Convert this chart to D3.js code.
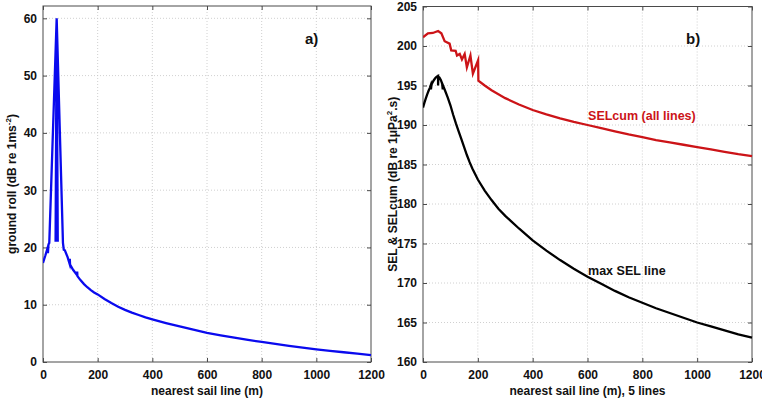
<!DOCTYPE html>
<html><head><meta charset="utf-8">
<script src="https://cdn.jsdelivr.net/npm/d3@7"></script>
<style>
body{margin:0;background:#fff;}
svg{display:block;font-family:"Liberation Sans",Arial,sans-serif;}
</style></head>
<body><svg id="c" width="762" height="400"></svg>
<script>
// ---------- data ----------
const xTicks = [0,200,400,600,800,1000,1200];
const groundTicks = [0,10,20,30,40,50,60];
const selTicks = [160,165,170,175,180,185,190,195,200,205];

const groundX = [0,8,16,18,20,23,50,46,50,54,50,73,76,80,90,97,98,99,110,124,125,126,137,150,162,175,187,200,225,250,275,300,325,350,375,400,450,500,550,600,650,700,750,800,850,900,950,1000,1050,1100,1150,1200];
const groundY = [17.3,18.5,19.8,19.0,20.5,20.8,60,21,60,21,60,20.8,19.6,19.5,18.3,17.2,18.0,17.0,16.1,15.2,15.8,15.0,14.3,13.6,13.05,12.55,12.15,11.8,11.0,10.3,9.65,9.1,8.62,8.2,7.8,7.45,6.8,6.2,5.65,5.1,4.65,4.25,3.85,3.5,3.15,2.8,2.5,2.2,1.95,1.7,1.45,1.2];

const selcumX = [0,18,36,55,67,79,97,103,119,124,134,142,152,160,173,182,201,202,225,250,275,300,350,400,450,500,550,600,650,700,750,800,850,900,950,1000,1050,1100,1150,1200];
const selcumY = [201.1,201.6,201.65,201.9,201.6,200.6,200.3,199.45,199.4,198.8,199.0,198.3,199.0,197.3,198.8,196.5,198.2,195.6,195.0,194.4,193.9,193.4,192.6,191.9,191.35,190.85,190.4,190.0,189.6,189.2,188.8,188.45,188.1,187.8,187.5,187.2,186.9,186.6,186.3,186.05];

const maxSelX = [0,5,10,15,20,25,28,29,31,35,40,45,50,55,55,56,60,65,70,72,73,80,90,100,110,120,130,140,150,160,170,180,190,200,225,250,275,300,350,400,450,500,550,600,650,700,750,800,850,900,950,1000,1050,1100,1150,1200];
const maxSelY = [192.2,192.8,193.35,193.85,194.3,194.7,195.0,194.5,195.1,195.4,195.7,195.95,196.1,196.2,195.0,196.1,196.0,195.7,195.2,194.5,195.0,194.4,193.5,192.5,191.3,190.2,189.2,188.2,187.2,186.2,185.3,184.5,183.8,183.1,181.7,180.5,179.4,178.5,176.9,175.4,174.1,172.9,171.8,170.8,169.9,169.0,168.2,167.5,166.8,166.2,165.6,165.0,164.5,164.0,163.5,163.1];

// ---------- drawing ----------
const svg = d3.select("#c");
const frameCol = "#4a4a4a";
const font = 12;

function panel(opt){
  const g = svg.append("g");
  const x = d3.scaleLinear().domain([0,1200]).range([opt.L,opt.R]);
  const y = d3.scaleLinear().domain(opt.yDom).range([opt.B,opt.T]);
  // grid
  g.append("g").selectAll("line").data(xTicks.slice(1,-1)).join("line")
    .attr("x1",d=>x(d)).attr("x2",d=>x(d)).attr("y1",opt.T).attr("y2",opt.B)
    .attr("stroke","#c4c4c4").attr("stroke-width",0.8).attr("stroke-dasharray","1,2");
  g.append("g").selectAll("line").data(opt.yTicks.filter(v=>v>opt.yDom[0]&&v<opt.yDom[1])).join("line")
    .attr("y1",d=>y(d)).attr("y2",d=>y(d)).attr("x1",opt.L).attr("x2",opt.R)
    .attr("stroke","#c4c4c4").attr("stroke-width",0.8).attr("stroke-dasharray","1,2");
  // axes
  const ax = g.append("g").attr("transform",`translate(0,${opt.B})`)
    .call(d3.axisBottom(x).tickValues(xTicks).tickSize(-4).tickPadding(8).tickFormat(d3.format("d")));
  const ay = g.append("g").attr("transform",`translate(${opt.L},0)`)
    .call(d3.axisLeft(y).tickValues(opt.yTicks).tickSize(-4).tickPadding(6).tickFormat(d3.format("d")));
  const axT = g.append("g").attr("transform",`translate(0,${opt.T})`)
    .call(d3.axisTop(x).tickValues(xTicks).tickSize(-4).tickFormat(""));
  const ayR = g.append("g").attr("transform",`translate(${opt.R},0)`)
    .call(d3.axisRight(y).tickValues(opt.yTicks).tickSize(-4).tickFormat(""));
  [ax,ay,axT,ayR].forEach(a=>{
    a.select(".domain").remove();
    a.selectAll("line").attr("stroke",frameCol);
    a.selectAll("text").attr("font-size",font).attr("font-weight","bold").attr("fill","#111")
      .attr("font-family","Liberation Sans, Arial, sans-serif");
  });
  g.append("rect").attr("x",opt.L).attr("y",opt.T).attr("width",opt.R-opt.L).attr("height",opt.B-opt.T)
    .attr("fill","none").attr("stroke",frameCol).attr("stroke-width",1);
  // series
  const clipId = "clip"+opt.id;
  svg.append("clipPath").attr("id",clipId).append("rect")
    .attr("x",opt.L).attr("y",opt.T-2).attr("width",opt.R-opt.L+1).attr("height",opt.B-opt.T+2);
  opt.series.forEach(s=>{
    const pts = s.x.map((v,i)=>[v,s.y[i]]);
    g.append("path").attr("clip-path",`url(#${clipId})`).datum(pts)
      .attr("d",d3.line().x(d=>x(d[0])).y(d=>y(d[1])))
      .attr("fill","none").attr("stroke",s.color).attr("stroke-width",2.3)
      .attr("stroke-linejoin","miter").attr("stroke-miterlimit",10);
  });
  // x label
  g.append("text").attr("x",(opt.L+opt.R)/2).attr("y",395).attr("text-anchor","middle")
    .attr("font-size",font).attr("font-weight","bold").attr("fill","#111").text(opt.xLabel);
  // y label
  const yl = g.append("text").attr("transform",`translate(${opt.yLabX},${(opt.T+opt.B)/2}) rotate(-90)`)
    .attr("text-anchor","middle").attr("font-size",font).attr("font-weight","bold").attr("fill","#111");
  opt.yLabel.forEach(p=>{
    const t = yl.append("tspan").text(p.t);
    if(p.sup){ t.attr("font-size",8).attr("dy",-5); }
    else if(p.after){ t.attr("dy",5); }
  });
  // panel letter
  g.append("text").attr("x",opt.letterX).attr("y",44).attr("font-size",15).attr("font-weight","bold")
    .attr("fill","#111").text(opt.letter);
  return {g,x,y};
}

const pa = panel({id:"a",L:43,R:371,T:6,B:362,yDom:[0,62.15],yTicks:groundTicks,
  xLabel:"nearest sail line (m)",yLabX:16,letter:"a)",letterX:305,
  yLabel:[{t:"ground roll (dB re 1ms"},{t:"-2",sup:true},{t:")",after:true}],
  series:[{x:groundX,y:groundY,color:"#0a0aee"}]});

const pb = panel({id:"b",L:423,R:752,T:6.5,B:362,yDom:[160,205],yTicks:selTicks,
  xLabel:"nearest sail line (m), 5 lines",yLabX:397,letter:"b)",letterX:686,
  yLabel:[{t:"SEL & SELcum (dB re 1\u03bcPa"},{t:"2",sup:true},{t:".s)",after:true}],
  series:[{x:selcumX,y:selcumY,color:"#cc1418"},{x:maxSelX,y:maxSelY,color:"#000"}]});

pb.g.append("text").attr("x",pb.x(602)).attr("y",pb.y(190.6)).attr("font-size",12.5).attr("font-weight","bold")
  .attr("fill","#cc1418").text("SELcum (all lines)");
pb.g.append("text").attr("x",pb.x(602)).attr("y",pb.y(171.0)).attr("font-size",12.5).attr("font-weight","bold")
  .attr("fill","#111").text("max SEL line");
</script>
</body></html>
